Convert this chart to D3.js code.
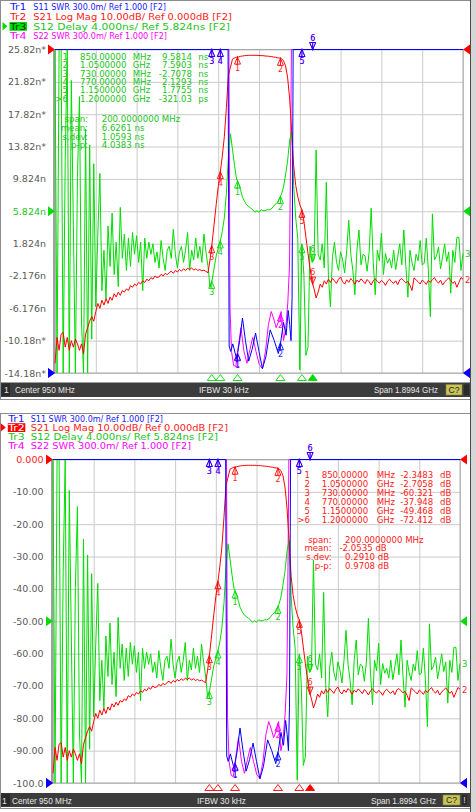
<!DOCTYPE html>
<html><head><meta charset="utf-8">
<script src="https://cdn.jsdelivr.net/npm/d3@7"></script>
<style>
html,body{margin:0;padding:0;background:#fff;overflow:hidden;}
svg{display:block;}
</style></head><body>
<svg id="c" width="476" height="812"></svg>
<script>
// ================= DATA =================
const startMHz = 0.3, stopMHz = 1899.7, nPoints = 201;

// S21 Log Mag (dB), 201 sweep points
const s21LogMag = [
 -97,-89,-93,-88,-87.5,-92,-89,-93,-90,-92,-89.5,-91,-93,-91,-94,-88,-86,
 -84,-82.5,-84,-81,-78.5,-80,-77.5,-79,-77,-78.5,-76.5,-77.5,-75.5,-76.5,
 -75,-76,-74.5,-75,-74,-74.5,-73,-73.5,-72.5,-73,-72,-72.5,-71.5,-72,-71,-71.5,-70.5,-71,-70,-70.5,
 -70.3,-69.5,-70,-69.2,-69.6,-69,-68.5,-69.2,-68.3,-68.8,-68,-68.5,-67.8,-68.3,-67.6,-68,-67.5,-68.2,-67.8,-68.3,-68,-68.4,-68.2,-68.6,-69,
 -65,-59.8,-54,-48,-42.5,-38,-33,-27,-18,-8,-5.5,-3,-2.6,-2.4,
 -2.3,-2.1,-2.0,-1.9,-1.85,-1.8,-1.8,-1.8,-1.8,-1.8,-1.85,-1.9,-1.9,-2.0,-2.05,-2.1,-2.2,-2.3,-2.4,-2.55,-2.65,
 -2.8,-3.5,-5,-8.5,-15,-25,-36,-42,-45.5,-48,-49.5,-53,-58,-63,-67.5,-71.8,-74,-76.8,-75,-72.5,
 -73.5,-71.5,-72.5,-71,-72,-70.8,-71.5,-72.3,-71,-70.3,-71.8,-72.5,-71.2,-72,-70.8,-71.5,-72.6,-71.3,-71.9,-70.9,
 -71.6,-72.4,-71.1,-71.8,-72.8,-71.5,-70.9,-71.7,-72.2,-71.4,-71.9,-72.9,-71.6,-71,-71.8,-72.3,-71.5,-72.7,-71.2,-70.8,
 -71.5,-72.1,-71.7,-72.9,-74.5,-70.6,-71.2,-71.8,-72.5,-71.3,-71.8,-72.6,-71.4,-72,-71.1,-70.5,-71.6,-72.2,-71.3,-72.8,
 -71.9,-71.2,-70.6,-71.4,-72.3,-71.7,-73.5,-72,-70.5,-71
];

// S12 Delay (ns), 201 sweep points
const s12Delay = [
 30,-20,30,30,-20,12,30,-20,22,4,-20,10,20,-8,-20,16,-20,14,
 -10,11.7,-6,3,10.5,-4,1,-5,4,-1, 5.6,-2,2,-3.5,6.3,0,3,-1.5,2.5,-1,
 3.2,0.5,2.8,-0.5,2,-4,2.5,0,2,0.5, 1.8,-0.5,0.8,-1.2,2.2,0,-1.5,1,1.5,0,
 3.6,0.5,-1.2,0.8,1.5,-0.5,1,3.2,-1.5,1, -0.2,2.5,0,1.5,-0.5,3.0,0.8,-1,-3.6,-2.7,
 -1.2,0.3,1.2,2.1,3.3,5,8,12.5,
 15.4,13.5,11.5,9.8,9.3,8.4,7.5,7.0,6.6,6.4, 6.2,6.0,5.7,5.9,5.7,6.0,5.9,5.9,6.0,6.0,
 6.1,6.4,6.7,6.9,7.4,7.9,8.8,10.3,12,14.5, 15.8,
 9,5,2.5,-13.8,1.8,-2,-12,-11,1.5,-0.5,-0.1,13.4,0.5,
 -0.2,1.8,-1.2,9.4,-2,-6,0.2,2.0,-0.5,-1.5, 0.8,-0.2,-1.8,1.0,4.7,0.5,-1.5,-4.5,1.0,3.5,
 -0.8,0.5,0.3,-1.6,0.8,6.2,-0.5,-4.5,1.0,-0.3, 3.1,-2.0,0.6,-0.6,0.0,-1.2,1.0,-1.4,0.2,1.8,
 -0.8,3.5,-1.0,-4.8,1.0,-0.5,-1.5,0.5,-0.3,2.2, -0.8,-0.6,2.5,-1.4,-7.2,5.5,-0.2,0.3,1.4,-1.3,
 0.2,1.8,-0.4,0.8,-4.3,1.0,-0.5,2.6,2.6,-1.5, 0.6
];

// S11 SWR (sparse points, MHz / ratio)
const s11Freq = [0.3,400,806,811,818,828,846,860,873,887,902,918,934,950,966,982,1002,1021,1040,1052,1064,1076,1086,1093,1099,1104,1109,1500,1899.7];
const s11Swr  = [40,40,40,1.25,1.2,1.27,1.13,1.3,1.51,1.3,1.11,1.22,1.37,1.2,1.04,1.15,1.4,1.3,1.18,1.3,1.47,1.35,1.58,1.45,1.3,1.7,40,40,40];

// S22 SWR (sparse points, MHz / ratio)
const s22Freq = [0.3,400,810,815,822,832,842,854,866,880,894,908,921,936,951,966,980,994,1007,1019,1030,1041,1053,1064,1074,1084,1092,1097,1101,1500,1899.7];
const s22Swr  = [40,40,40,1.6,1.2,1.07,1.06,1.25,1.42,1.2,1.09,1.22,1.33,1.2,1.08,1.04,1.2,1.45,1.57,1.5,1.42,1.48,1.57,1.3,1.4,1.65,2.0,3.0,40,40,40];

// Markers
const markerFreqs = [850,1050,730,770,1150,1200];
const markerNames = ["1","2","3","4","5",">6"];
const markerFreqText = ["850.00000","1.0500000","730.00000","770.00000","1.1500000","1.2000000"];
const markerFreqUnit = ["MHz","GHz","MHz","MHz","GHz","GHz"];
const delayMarkerVals = ["9.5814","7.5903","-2.7078","2.1293","1.7755","-321.03"];
const delayMarkerUnits = ["ns","ns","ns","ns","ns","ps"];
const magMarkerVals = ["-2.3483","-2.7058","-60.321","-37.948","-49.468","-72.412"];
const magMarkerUnits = ["dB","dB","dB","dB","dB","dB"];
const statLabels = ["span:","mean:","s.dev:","p-p:"];
const delayStats = ["200.0000000 MHz","6.6261 ns","1.0593 ns","4.0383 ns"];
const magStats = ["200.0000000 MHz","-2.0535 dB","0.2910 dB","0.9708 dB"];

// Tick labels (bottom to top)
const delayTickLabels = ["-14.18n*","-10.18n*","-6.176n","-2.176n","1.824n","5.824n","9.824n","13.82n*","17.82n*","21.82n*","25.82n*"];
const magTickLabels = ["-100.0","-90.00","-80.00","-70.00","-60.00","-50.00","-40.00","-30.00","-20.00","-10.00","0.000"];

// Header lines
const traceNames = ["Tr1","Tr2","Tr3","Tr4"];
const traceHeaders = ["S11 SWR 300.0m/ Ref 1.000 [F2]","S21 Log Mag 10.00dB/ Ref 0.000dB [F2]","S12 Delay 4.000ns/ Ref 5.824ns [F2]","S22 SWR 300.0m/ Ref 1.000 [F2]"];
const statusTexts = ["1","Center 950 MHz","IFBW 30 kHz","Span 1.8994 GHz","C?"];

// ================= RENDER =================
const FONT = "DejaVu Sans, Verdana, sans-serif";
const SFONT = "Liberation Sans, Arial, sans-serif";
const freqGrid = d3.range(nPoints).map(i => startMHz + i*(stopMHz-startMHz)/(nPoints-1));

const traces = [
  {color:"#0000ff", txt:"#1a1aff", refVal:1,     perDiv:0.3, refPos:0,  freq:s11Freq,  vals:s11Swr},
  {color:"#ff0000", txt:"#ff1a1a", refVal:0,     perDiv:10,  refPos:10, freq:freqGrid, vals:s21LogMag},
  {color:"#00dd00", txt:"#22c422", refVal:5.824, perDiv:4,   refPos:5,  freq:freqGrid, vals:s12Delay},
  {color:"#ff00ff", txt:"#ff00ff", refVal:1,     perDiv:0.3, refPos:0,  freq:s22Freq,  vals:s22Swr}
];

function interp(fs, vs, f){
  const i = d3.bisectRight(fs, f);
  if (i <= 0) return vs[0];
  if (i >= fs.length) return vs[vs.length-1];
  const t = (f - fs[i-1])/(fs[i]-fs[i-1]);
  return vs[i-1] + t*(vs[i]-vs[i-1]);
}

const panels = [
  { id:"top", frame:{x:0.5,y:0.5,w:470,h:399},
    hdrX:10, hdrRestX:33.3, hdrBase:[10,20,29.5,38.8], hdrRestW:[132.7,198.7,196.7,133.7],
    plot:{l:55,r:463,t:49.5,b:373}, active:2, tickLabels:delayTickLabels, labelRight:46,
    table:{numX:68,freqX:80,unitX:132.7,valX:192,vunitX:198.3,rowBase:[60,68.3,76.7,85,93.3,101.7],
      statColon:88,statValX:101.7,statBase:[122,130.8,139.6,148.4],vals:delayMarkerVals,units:delayMarkerUnits,stats:delayStats},
    status:{t:382.5,h:14.5,base:393.2,oneX:4,centerX:15,ifbwX:199,spanX:374,cX:446,cW:16,bang:false,
      w:[60,50,64]}
  },
  { id:"bot", frame:{x:0.5,y:413.5,w:470,h:395},
    hdrX:8.3, hdrRestX:30.7, hdrBase:[421.5,430.7,439.9,449], hdrRestW:[132.3,197.3,187.3,160.3],
    plot:{l:53,r:460,t:459.5,b:783}, active:1, tickLabels:magTickLabels, labelRight:43.5,
    table:{numX:310,freqX:321.7,unitX:376.7,valX:433.3,vunitX:440,rowBase:[478.3,487,496,505,513.7,522.7],
      statColon:331.7,statValX:345,statBase:[542.7,551.3,560.3,569.3],vals:magMarkerVals,units:magMarkerUnits,stats:magStats},
    status:{t:793,h:14,base:803.5,oneX:2,centerX:12,ifbwX:197,spanX:371,cX:443,cW:17,bang:true,
      w:[60,49,65]}
  }
];

const svg = d3.select("#c");
svg.append("rect").attr("width",476).attr("height",812).attr("fill","#fff");

function drawPanel(p){
  const g = svg.append("g");
  const {l,r,t,b} = p.plot;
  g.append("rect").attr("x",p.frame.x).attr("y",p.frame.y).attr("width",p.frame.w).attr("height",p.frame.h)
    .attr("fill","#fff").attr("stroke","#8c8c8c");

  const xs = d3.scaleLinear().domain([startMHz, stopMHz]).range([l, r]);
  const yScale = tr => d3.scaleLinear()
    .domain([tr.refVal - tr.refPos*tr.perDiv, tr.refVal + (10-tr.refPos)*tr.perDiv])
    .range([b, t]).clamp(true);
  const act = traces[p.active];
  const ya = yScale(act);
  const yTicks = d3.range(11).map(k => act.refVal + (k - act.refPos)*act.perDiv);
  const xTicks = d3.range(11).map(k => startMHz + k*(stopMHz-startMHz)/10);

  // grid
  g.append("g").attr("transform",`translate(${l},0)`)
    .call(d3.axisLeft(ya).tickValues(yTicks).tickSize(-(r-l)).tickFormat(""))
    .call(s=>{s.select(".domain").remove(); s.selectAll("line").attr("stroke","#cacaca");});
  g.append("g").attr("transform",`translate(0,${b})`)
    .call(d3.axisBottom(xs).tickValues(xTicks).tickSize(-(b-t)).tickFormat(""))
    .call(s=>{s.select(".domain").remove(); s.selectAll("line").attr("stroke","#cacaca");});
  g.append("rect").attr("x",l).attr("y",t).attr("width",r-l).attr("height",b-t)
    .attr("fill","none").attr("stroke","#a8a8a8");
  g.append("line").attr("x1",l-1).attr("x2",l-1).attr("y1",t).attr("y2",b+1).attr("stroke","#a0a0a0").attr("stroke-width",2);

  // y labels
  g.append("g").attr("transform",`translate(${p.labelRight},0)`)
    .call(d3.axisLeft(ya).tickValues(yTicks).tickSize(0).tickPadding(0).tickFormat((d,i)=>p.tickLabels[i]))
    .call(s=>{
      s.select(".domain").remove();
      s.attr("font-family",FONT).attr("font-size",9.5);
      s.selectAll("text").attr("fill",(d,i)=> (Math.abs(d-act.refVal)<1e-9) ? act.txt : "#5a5a5a");
    });

  // traces
  const cid = "clip-"+p.id;
  g.append("clipPath").attr("id",cid).append("rect").attr("x",l-1).attr("y",t-1.5).attr("width",r-l+2).attr("height",b-t+3);
  const tg = g.append("g").attr("clip-path",`url(#${cid})`);
  const order = [3,2,1,0];
  order.forEach(ti=>{
    const tr = traces[ti]; const ys = yScale(tr);
    const pts = tr.freq.map((f,i)=>[f, tr.vals[i]]);
    tg.append("path").datum(pts)
      .attr("d", d3.line().x(d=>xs(d[0])).y(d=>ys(d[1])))
      .attr("fill","none").attr("stroke",tr.color).attr("stroke-width",1).attr("stroke-linejoin","round");
  });

  // trace-end labels (visible ones)
  [[2,"3"],[1,"2"]].forEach(([ti,lab])=>{
    const tr = traces[ti]; const ys = yScale(tr);
    g.append("text").attr("x",r+2).attr("y",ys(tr.vals[tr.vals.length-1])+3.5)
      .attr("font-family",FONT).attr("font-size",8.5).attr("fill",tr.txt).text(lab);
  });

  // markers on traces
  const mg = g.append("g");
  order.forEach(ti=>{
    const tr = traces[ti]; const ys = yScale(tr);
    markerFreqs.forEach((f,k)=>{
      const x = xs(f), y = ys(interp(tr.freq, tr.vals, f));
      const activeM = (k===5);
      const lab = String(k+1);
      if(!activeM){
        mg.append("path").attr("d",`M${x},${y} L${x-3},${y+7} L${x+3},${y+7} Z M${x},${y-1} L${x},${y+7}`)
          .attr("fill","none").attr("stroke",tr.color).attr("stroke-width",0.9);
        mg.append("text").attr("x",x).attr("y",y+14).attr("text-anchor","middle")
          .attr("font-family",FONT).attr("font-size",8).attr("fill",tr.txt).text(lab);
      } else {
        mg.append("path").attr("d",`M${x},${y} L${x-3},${y-7} L${x+3},${y-7} Z M${x},${y+1} L${x},${y-7}`)
          .attr("fill","none").attr("stroke",tr.color).attr("stroke-width",0.9);
        mg.append("text").attr("x",x).attr("y",y-9).attr("text-anchor","middle")
          .attr("font-family",FONT).attr("font-size",8).attr("fill",tr.txt).text(lab);
      }
    });
  });

  // marker indicators under plot for active trace
  markerFreqs.forEach((f,k)=>{
    const x = xs(f);
    g.append("path").attr("d",`M${x},${b+1.5} L${x-4.5},${b+7.5} L${x+4.5},${b+7.5} Z`)
      .attr("fill", k===5 ? act.color : "none").attr("stroke",act.color).attr("stroke-width",0.9);
  });

  // reference position triangles
  [3,2,1,0].forEach(ti=>{
    const tr = traces[ti]; const ys = yScale(tr); const y = ys(tr.refVal);
    g.append("path").attr("d",`M${l},${y} L${l-7},${y-5} L${l-7},${y+5} Z`).attr("fill",tr.color);
    g.append("path").attr("d",`M${r},${y} L${r+7},${y-5} L${r+7},${y+5} Z`).attr("fill",tr.color);
  });

  // header lines
  traces.forEach((tr,ti)=>{
    const yb = p.hdrBase[ti];
    if(ti===p.active){
      g.append("rect").attr("x",p.hdrX-0.5).attr("y",yb-7.5).attr("width",17.5).attr("height",8.8).attr("fill",tr.color);
      g.append("text").attr("x",p.hdrX).attr("y",yb).attr("font-family",FONT).attr("font-size",9)
        .attr("fill", ti===2 ? "#003300" : "#ffffff").attr("textLength",16.5).attr("lengthAdjust","spacingAndGlyphs").text(traceNames[ti]);
      g.append("path").attr("d",`M${p.hdrX-2.5},${yb-3.3} L${p.hdrX-7.5},${yb-7.5} L${p.hdrX-7.5},${yb+0.9} Z`).attr("fill",tr.color);
    } else {
      g.append("text").attr("x",p.hdrX).attr("y",yb).attr("font-family",FONT).attr("font-size",9)
        .attr("fill",tr.txt).attr("textLength",16.5).attr("lengthAdjust","spacingAndGlyphs").text(traceNames[ti]);
    }
    g.append("text").attr("x",p.hdrRestX).attr("y",yb).attr("font-family",FONT).attr("font-size",9)
      .attr("fill",tr.txt).attr("textLength",p.hdrRestW[ti]).attr("lengthAdjust","spacingAndGlyphs").text(traceHeaders[ti]);
  });

  // marker table
  const T = p.table; const tc = act.txt;
  const tt = (x,y,s,anchor)=> g.append("text").attr("x",x).attr("y",y).attr("text-anchor",anchor||"start")
      .attr("font-family",FONT).attr("font-size",8.6).attr("fill",tc).text(s);
  markerNames.forEach((m,k)=>{
    const yb = T.rowBase[k];
    tt(T.numX, yb, m, "end");
    tt(T.freqX, yb, markerFreqText[k]);
    tt(T.unitX, yb, markerFreqUnit[k]);
    tt(T.valX, yb, T.vals[k], "end");
    tt(T.vunitX, yb, T.units[k]);
  });
  statLabels.forEach((s,k)=>{
    const yb = T.statBase[k];
    tt(T.statColon, yb, s, "end");
    const v = T.stats[k];
    tt(v.startsWith("-") ? T.statValX-5.5 : T.statValX, yb, v);
  });

  // status bar
  const S = p.status;
  g.append("rect").attr("x",1).attr("y",S.t).attr("width",469).attr("height",S.h).attr("fill","#3c3c3c");
  g.append("rect").attr("x",1.5).attr("y",S.t+1).attr("width",8.5).attr("height",S.h-2).attr("fill","#2a2a2a");
  const st = (x,s,w)=> {
    const e = g.append("text").attr("x",x).attr("y",S.base).attr("font-family",SFONT).attr("font-size",8.6)
      .attr("fill","#e6e6e6").text(s);
    if(w) e.attr("textLength",w).attr("lengthAdjust","spacingAndGlyphs");
  };
  st(S.oneX, statusTexts[0]);
  st(S.centerX, statusTexts[1], S.w[0]);
  st(S.ifbwX, statusTexts[2], S.w[1]);
  st(S.spanX, statusTexts[3], S.w[2]);
  g.append("rect").attr("x",S.cX).attr("y",S.t+2).attr("width",S.cW).attr("height",S.h-4).attr("fill","#c8c45a").attr("stroke","#8a8630").attr("stroke-width",0.6);
  g.append("text").attr("x",S.cX+S.cW/2).attr("y",S.base-0.3).attr("text-anchor","middle").attr("font-family",SFONT)
    .attr("font-size",8.6).attr("fill","#222").text(statusTexts[4]);
  g.append("rect").attr("x",S.cX+S.cW+2).attr("y",S.t+2).attr("width",5).attr("height",S.h-4).attr("fill","#2a2a2a");
  if(S.bang){
    g.append("text").attr("x",S.cX+S.cW+4.5).attr("y",S.base-0.3).attr("text-anchor","middle").attr("font-family",SFONT)
      .attr("font-size",8.5).attr("fill","#e6e6e6").text("!");
  }
}

panels.forEach(drawPanel);

// right side strip
svg.append("rect").attr("x",471).attr("y",0).attr("width",5).attr("height",812).attr("fill","#d6d6d6");
svg.append("line").attr("x1",470.5).attr("x2",470.5).attr("y1",0).attr("y2",812).attr("stroke","#4a4a4a");
</script>
</body></html>
